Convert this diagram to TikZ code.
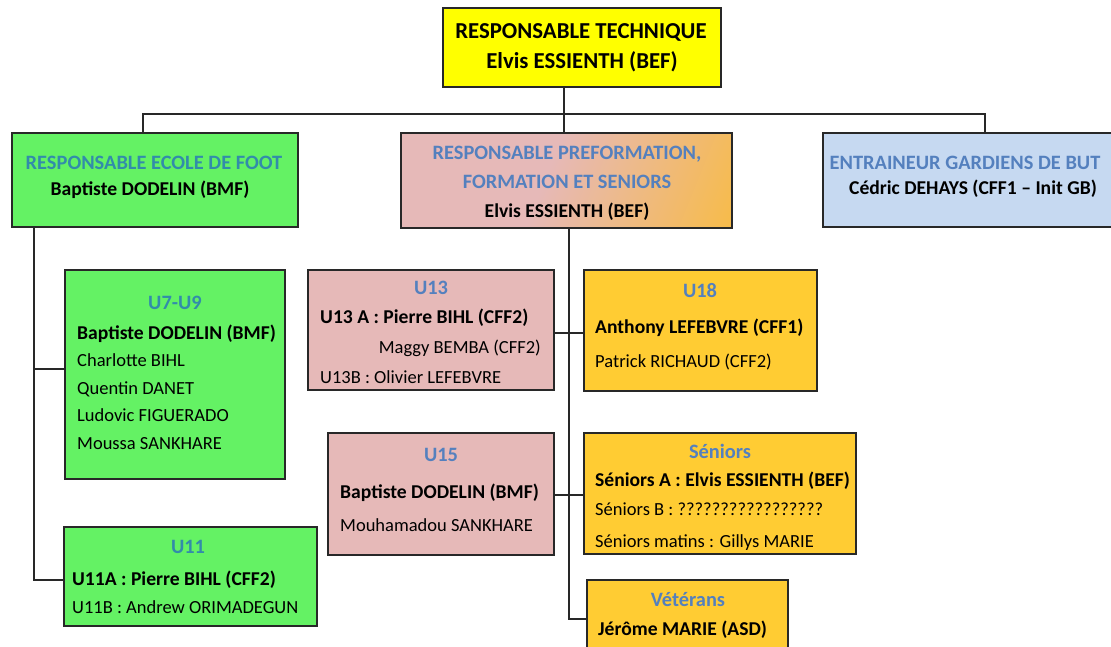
\documentclass[tikz,border=0pt]{standalone}
\usepackage{fontspec}
\setmainfont{Carlito}
\definecolor{yel}{RGB}{255,255,0}
\definecolor{grn}{RGB}{100,242,100}
\definecolor{pinkc}{RGB}{230,185,184}
\definecolor{orgc}{RGB}{255,188,20}
\definecolor{lblue}{RGB}{198,217,241}
\definecolor{gold}{RGB}{255,204,51}
\definecolor{ttlblue}{RGB}{84,128,190}
\definecolor{ttlteal}{RGB}{50,140,170}
\definecolor{bline}{RGB}{40,40,40}
\pgfdeclarehorizontalshading{pinkorange}{100bp}{color(0bp)=(pinkc); color(46bp)=(pinkc); color(100bp)=(orgc)}
\begin{document}
\begin{tikzpicture}[x=1pt,y=-1pt,
  box/.style={draw=bline, line width=1.4pt, inner sep=0pt, outer sep=0pt, anchor=north west},
  conn/.style={draw=bline, line width=1.4pt},
  ttl/.style={font=\fontsize{20.4}{24}\selectfont\bfseries, text=ttlblue, inner sep=0pt, anchor=mid, yshift=-4pt},
  ttlg/.style={ttl, text=ttlteal},
  head/.style={font=\fontsize{22.8}{26}\selectfont\bfseries, inner sep=0pt, anchor=mid, yshift=-4pt},
  nm/.style={font=\fontsize{18.5}{22}\selectfont, inner sep=0pt, anchor=mid west, yshift=-4pt},
  nmb/.style={font=\fontsize{19.6}{22}\selectfont\bfseries, inner sep=0pt, anchor=mid west, yshift=-4pt},
  nmbc/.style={nmb, anchor=mid}]
\useasboundingbox (0,0) rectangle (1111,647);
\clip (0,0) rectangle (1111,647);
\fill[white] (0,0) rectangle (1111,647);

% boxes
\node[box, fill=yel, minimum width=278pt, minimum height=79pt] (top) at (443,8) {};
\node[box, fill=grn, minimum width=286pt, minimum height=94pt] (efoot) at (12,133) {};
\node[box, shading=pinkorange, shading angle=-22, minimum width=331pt, minimum height=95pt] (pref) at (401,133) {};
\node[box, fill=lblue, minimum width=290pt, minimum height=94pt] (gard) at (823,133) {};
\node[box, fill=grn, minimum width=220pt, minimum height=209pt] (u79) at (65,270) {};
\node[box, fill=grn, minimum width=253pt, minimum height=99pt] (u11) at (64,527) {};
\node[box, fill=pinkc, minimum width=246pt, minimum height=120pt] (u13) at (308,270) {};
\node[box, fill=pinkc, minimum width=226pt, minimum height=122pt] (u15) at (328,433) {};
\node[box, fill=gold, minimum width=233pt, minimum height=121pt] (u18) at (584,270) {};
\node[box, fill=gold, minimum width=272pt, minimum height=121pt] (sen) at (584,433) {};
\node[box, fill=gold, minimum width=201pt, minimum height=90pt] (vet) at (587,580) {};

% junction coordinates
\coordinate (j0) at (564,114);
\coordinate (jl) at (143,114);
\coordinate (jr) at (985,114);
\coordinate (l1) at (34,369);
\coordinate (l2) at (34,580);
\coordinate (m1) at (569,333);
\coordinate (m2) at (569,495);
\coordinate (m3) at (569,619);

% connectors
\draw[conn] (top.south -| j0) -- (j0);
\draw[conn] (efoot.north -| jl) -- (jl) -- (jr) -- (gard.north -| jr);
\draw[conn] (j0) -- (pref.north -| j0);
\draw[conn] (efoot.south -| l2) -- (l2) -- (u11.west |- l2);
\draw[conn] (l1) -- (u79.west |- l1);
\draw[conn] (pref.south -| m3) -- (m3) -- (vet.west |- m3);
\draw[conn] (u13.east |- m1) -- (u18.west |- m1);
\draw[conn] (u15.east |- m2) -- (sen.west |- m2);

% texts
\node[head] (t1) at (581,32) {RESPONSABLE TECHNIQUE};
\node[head] (t2) at (582,62) {Elvis ESSIENTH (BEF)};

\node[ttlg] (e1) at (154,163) {RESPONSABLE ECOLE DE FOOT};
\node[nmbc] (e2) at (150,189) {Baptiste DODELIN (BMF)};

\node[ttl] (p1) at (567,153) {RESPONSABLE PREFORMATION,};
\node[ttl] (p2) at (567,182) {FORMATION ET SENIORS};
\node[nmbc] (p3) at (567,211) {Elvis ESSIENTH (BEF)};

\node[ttl] (g1) at (965,163) {ENTRAINEUR GARDIENS DE BUT};
\node[nmbc] (g2) at (973,188) {Cédric DEHAYS (CFF1 – Init GB)};

\node[ttlg] (a0) at (175,303) {U7-U9};
\node[nmb] (a1) at (77,333) {Baptiste DODELIN (BMF)};
\node[nm] (a2) at (77,360) {Charlotte BIHL};
\node[nm] (a3) at (77,388) {Quentin DANET};
\node[nm] (a4) at (77,415) {Ludovic FIGUERADO};
\node[nm] (a5) at (77,443) {Moussa SANKHARE};

\node[ttlg] (b0) at (188,547) {U11};
\node[nmb] (b1) at (72,579) {U11A : Pierre BIHL (CFF2)};
\node[nm] (b2) at (72,607) {U11B : Andrew ORIMADEGUN};

\node[ttl] (c0) at (431,288) {U13};
\node[nmb] (c1) at (320,317) {U13 A : Pierre BIHL (CFF2)};
\node[nm, anchor=mid east] (c2) at (541,347) {Maggy BEMBA (CFF2)};
\node[nm] (c3) at (320,377) {U13B : Olivier LEFEBVRE};

\node[ttl] (d0) at (441,455) {U15};
\node[nmb] (d1) at (340,492) {Baptiste DODELIN (BMF)};
\node[nm] (d2) at (340,525) {Mouhamadou SANKHARE};

\node[ttl] (f0) at (700,291) {U18};
\node[nmb] (f1) at (595,327) {Anthony LEFEBVRE (CFF1)};
\node[nm] (f2) at (595,361) {Patrick RICHAUD (CFF2)};

\node[ttl] (s0) at (720,452) {Séniors};
\node[nmb] (s1) at (595,480) {Séniors A : Elvis ESSIENTH (BEF)};
\node[nm] (s2) at (595,509) {Séniors B : ?????????????????};
\node[nm] (s3) at (595,541) {Séniors matins : Gillys MARIE};

\node[ttl] (v0) at (688,600) {Vétérans};
\node[nmb] (v1) at (598,629) {Jérôme MARIE (ASD)};
\end{tikzpicture}
\end{document}
